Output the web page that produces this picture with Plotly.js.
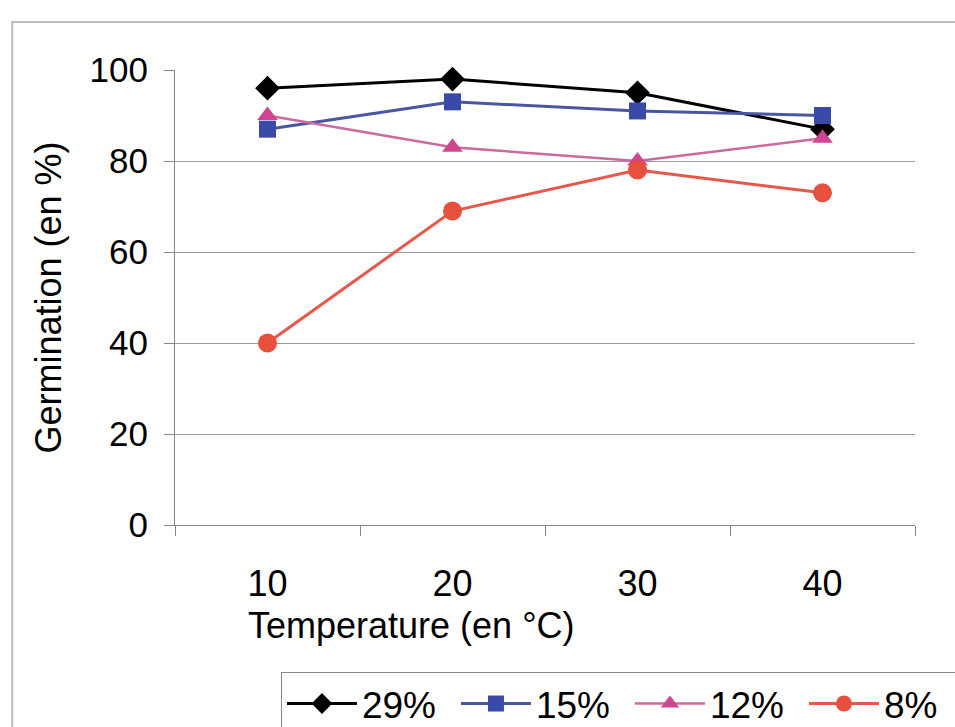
<!DOCTYPE html>
<html>
<head>
<meta charset="utf-8">
<script src="https://cdn.plot.ly/plotly-3.0.1.min.js"></script>
<style>
  html, body { margin: 0; padding: 0; background: #ffffff; overflow: hidden; }
  #chart { width: 1100px; height: 760px; }
</style>
</head>
<body>
<div id="chart"></div>
<script>
// Data
const categories = ['10', '20', '30', '40'];
const seriesNames = ['29%', '15%', '12%', '8%'];
const s29 = [96, 98, 95, 87];
const s15 = [87, 93, 91, 90];
const s12 = [90, 83, 80, 85];
const s8  = [40, 69, 78, 73];
const yTicks = [0, 20, 40, 60, 80, 100];
const gridTicks = [20, 40, 60, 80];
const xTitle = 'Temperature (en °C)';
const yTitle = 'Germination (en %)';

const FONT = '"Liberation Sans", Arial, sans-serif';

const styles = [
  { line: '#000000', marker: '#000000', symbol: 'diamond', size: 19, width: 3 },
  { line: '#4a56a0', marker: '#3a4aa8', symbol: 'square', size: 17, width: 3 },
  { line: '#cc6aa0', marker: '#d0458f', symbol: 'triangle-up', size: 18, width: 2.5 },
  { line: '#e8584a', marker: '#e8503e', symbol: 'circle', size: 19, width: 3 }
];
const values = [s29, s15, s12, s8];

const traces = values.map((v, i) => ({
  type: 'scatter',
  mode: 'lines+markers',
  name: seriesNames[i],
  x: categories,
  y: v,
  line: { color: styles[i].line, width: styles[i].width },
  marker: { color: styles[i].marker, symbol: styles[i].symbol, size: styles[i].size },
  cliponaxis: false
}));

const layout = {
  width: 1100,
  height: 760,
  margin: { l: 175, r: 185, t: 70, b: 235 },
  paper_bgcolor: '#ffffff',
  plot_bgcolor: '#ffffff',
  font: { family: FONT, size: 36, color: '#000000' },
  showlegend: true,
  legend: {
    orientation: 'h',
    x: 0.1432, xanchor: 'left',
    y: -0.323, yanchor: 'top',
    bordercolor: '#888888', borderwidth: 1,
    bgcolor: '#ffffff',
    font: { family: FONT, size: 37, color: '#000000' },
    itemwidth: 70,
    entrywidth: 89,
    entrywidthmode: 'pixels',
    tracegroupgap: 0
  },
  xaxis: {
    type: 'category',
    tickson: 'boundaries',
    ticks: 'outside', ticklen: 10, tickcolor: '#888888', tickwidth: 1,
    showline: true, linecolor: '#888888', linewidth: 1,
    showgrid: false, zeroline: false,
    ticklabelstandoff: 27,
    tickfont: { family: FONT, size: 36, color: '#000000' },
    range: [-0.5, 3.5],
    fixedrange: true
  },
  yaxis: {
    range: [0, 100],
    tickvals: yTicks,
    ticks: 'outside', ticklen: 10, tickcolor: '#888888', tickwidth: 1,
    showline: true, linecolor: '#888888', linewidth: 1,
    showgrid: false, zeroline: false,
    ticklabelstandoff: 9,
    tickfont: { family: FONT, size: 35, color: '#000000' },
    title: { text: yTitle, font: { family: FONT, size: 36, color: '#000000' }, standoff: 16 },
    automargin: false
  },
  yaxis2: {
    overlaying: 'y',
    range: [0, 100],
    tickvals: gridTicks,
    showticklabels: false,
    ticks: '',
    showline: false,
    showgrid: true, gridcolor: '#999999', gridwidth: 1,
    zeroline: false
  },
  annotations: [{
    text: xTitle,
    xref: 'paper', yref: 'paper',
    x: 0.32, xanchor: 'center',
    y: -0.22, yanchor: 'middle',
    showarrow: false,
    font: { family: FONT, size: 36, color: '#000000' }
  }],
  shapes: [{
    type: 'rect', xref: 'paper', yref: 'paper',
    x0: -0.22, x1: 1.07, y0: -0.5, y1: 1.1055,
    line: { color: '#bbbbbb', width: 2 },
    fillcolor: 'rgba(0,0,0,0)',
    layer: 'below'
  }]
};

// dummy trace on yaxis2 so the gridline axis is drawn
traces.push({ type: 'scatter', x: [categories[0]], y: [null], yaxis: 'y2', showlegend: false, hoverinfo: 'skip', mode: 'markers' });

Plotly.newPlot('chart', traces, layout, { staticPlot: true, displayModeBar: false });
</script>
</body>
</html>
